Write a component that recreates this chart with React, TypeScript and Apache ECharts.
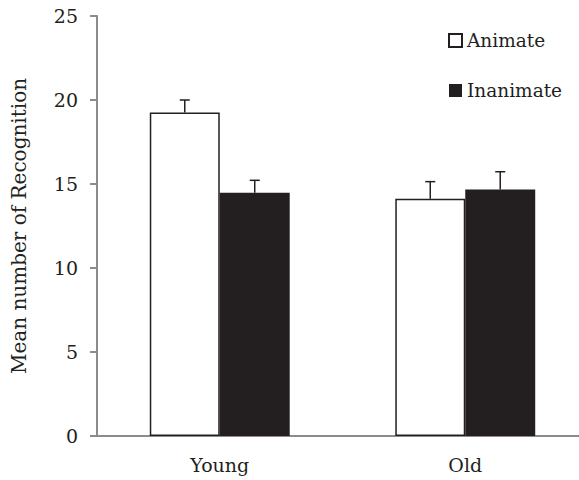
import React, { useEffect, useRef } from "react";
import * as echarts from "echarts";

const categories = ["Young", "Old"];
const animateValues = [19.25, 14.12];
const animateErrors = [0.75, 1.02];
const inanimateValues = [14.48, 14.68];
const inanimateErrors = [0.74, 1.05];
const yTicks = { min: 0, max: 25, interval: 5 };

const INK = "#231f20";
const AXIS = "#8c8c8c";
const FONT = "DejaVu Serif";
const CAT_GAP = 43;

export default function App() {
  const ref = useRef<HTMLDivElement>(null);
  useEffect(() => {
    if (!ref.current) return;
    const chart = echarts.init(ref.current, undefined, { renderer: "svg" });

    const errorSeries = (vals: number[], errs: number[], side: number, name: string) => ({
      type: "custom",
      name: name + " error",
      data: vals.map((v, i) => [i, v, v + errs[i]]),
      z: 5,
      renderItem: (params: any, api: any) => {
        const cat = api.value(0);
        const base = api.coord([cat, api.value(1)]);
        const top = api.coord([cat, api.value(2)]);
        const band = api.size([1, 0])[0];
        const barW = (band * (1 - CAT_GAP / 100)) / 2;
        const x = base[0] + side * barW / 2;
        const cap = 5;
        return {
          type: "group",
          children: [
            { type: "line", shape: { x1: x, y1: base[1], x2: x, y2: top[1] }, style: { stroke: INK, lineWidth: 1.5 } },
            { type: "line", shape: { x1: x - cap, y1: top[1], x2: x + cap, y2: top[1] }, style: { stroke: INK, lineWidth: 1.5 } },
          ],
        };
      },
    });

    chart.setOption({
      animation: false,
      textStyle: { fontFamily: FONT, color: INK },
      grid: { left: 97, top: 16, height: 420, width: 491, containLabel: false },
      legend: {
        orient: "vertical",
        left: 443,
        top: 26,
        itemWidth: 13,
        itemHeight: 13,
        itemGap: 31,
        icon: "rect",
        data: ["Animate", "Inanimate"],
        textStyle: { fontFamily: FONT, fontSize: 18.5, color: INK },
      },
      xAxis: {
        type: "category",
        data: categories,
        axisLine: { lineStyle: { color: AXIS, width: 2 } },
        axisTick: { show: false },
        axisLabel: { fontFamily: FONT, fontSize: 19, color: INK, margin: 19 },
      },
      yAxis: {
        type: "value",
        min: yTicks.min,
        max: yTicks.max,
        interval: yTicks.interval,
        name: "Mean number of Recognition",
        nameLocation: "middle",
        nameGap: 68,
        nameTextStyle: { fontFamily: FONT, fontSize: 20, color: INK },
        splitLine: { show: false },
        axisLine: { show: true, lineStyle: { color: AXIS, width: 2 } },
        axisTick: { show: true, length: 7, lineStyle: { color: AXIS, width: 2 } },
        axisLabel: { fontFamily: FONT, fontSize: 19, color: INK, margin: 19 },
      },
      series: [
        {
          type: "bar",
          name: "Animate",
          data: animateValues,
          barGap: "0%",
          barCategoryGap: CAT_GAP + "%",
          itemStyle: { color: "#ffffff", borderColor: INK, borderWidth: 1.5 },
        },
        {
          type: "bar",
          name: "Inanimate",
          data: inanimateValues,
          barGap: "0%",
          barCategoryGap: CAT_GAP + "%",
          itemStyle: { color: INK },
        },
        errorSeries(animateValues, animateErrors, -1, "Animate"),
        errorSeries(inanimateValues, inanimateErrors, 1, "Inanimate"),
      ],
    } as any);
    return () => chart.dispose();
  }, []);
  return (
    <div style={{ position: "fixed", left: 0, top: 0, width: 579, height: 480, overflow: "hidden", background: "#fff" }}>
      <div ref={ref} style={{ width: 590, height: 480 }} />
    </div>
  );
}
